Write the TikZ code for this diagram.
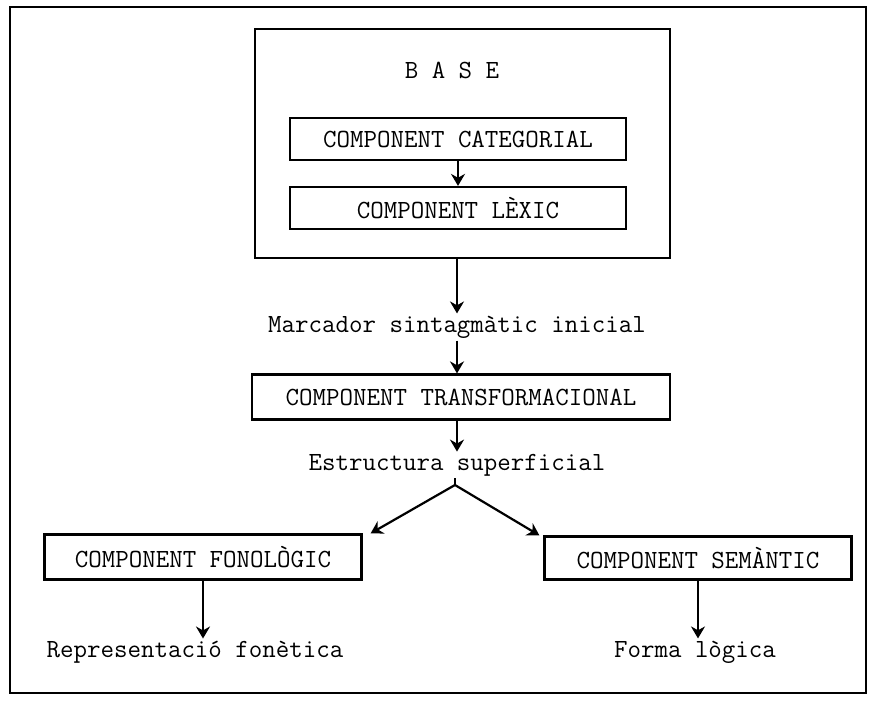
\documentclass[tikz,border=0pt]{standalone}
\usepackage{fontspec}
\usepackage{tikz}
\usetikzlibrary{arrows.meta}

\begin{document}
\begin{tikzpicture}[x=0.5pt, y=-0.5pt,
	comp/.style = {draw, line width=1.1pt, inner sep=0pt, font=\ttfamily\fontsize{13.1}{15}\selectfont},
	lbl/.style = {inner sep=1pt, font=\ttfamily\fontsize{13.1}{15}\selectfont},
	arr/.style = {line width=1.1pt, -{Stealth[length=6pt, width=7pt]}}]
	\useasboundingbox (0,0) rectangle (875,701);
	\draw[line width=1pt] (10,7) rectangle (866,693);
	% base
	\node[draw, line width=1.1pt, minimum width=207.5pt, minimum height=114.5pt] (base) at (462.5,143.5) {};
	\node[lbl] (basetitle) at (452,70) {B A S E};
	\node[comp, minimum width=168pt, minimum height=21pt] (cat) at (458,139) {COMPONENT CATEGORIAL};
	\node[comp, minimum width=168pt, minimum height=21pt] (lex) at (458,208) {COMPONENT LÈXIC};
	% derivacio
	\node[lbl] (marc) at (457,327) {Marcador sintagmàtic inicial};
	\node[comp, minimum width=209pt, minimum height=22.5pt] (trans) at (461,397) {COMPONENT TRANSFORMACIONAL};
	\node[lbl] (estr) at (457,465) {Estructura superficial};
	\coordinate (split) at (455,485);
	\node[comp, minimum width=158.5pt, minimum height=22.5pt] (fon) at (203,557) {COMPONENT FONOLÒGIC};
	\node[comp, minimum width=153.5pt, minimum height=21.5pt] (sem) at (698,558) {COMPONENT SEMÀNTIC};
	\node[lbl] (rep) at (195,652) {Representació fonètica};
	\node[lbl] (forma) at (695,652) {Forma lògica};
	\draw[arr] (cat) -- (lex);
	\draw[arr] (base.south -| marc) -- (marc.north);
	\draw[arr] (marc) -- (marc.south |- trans.north);
	\draw[arr] (trans.south -| estr) -- (estr.north);
	\draw[line width=1.1pt] (estr.south -| split) -- (split);
	\draw[arr] (split) -- ([xshift=4pt]fon.north east);
	\draw[arr] (split) -- ([xshift=-2pt]sem.north west);
	\draw[arr] (fon) -- (fon.south |- rep.north);
	\draw[arr] (sem) -- (sem.south |- forma.north);
\end{tikzpicture}
\end{document}
